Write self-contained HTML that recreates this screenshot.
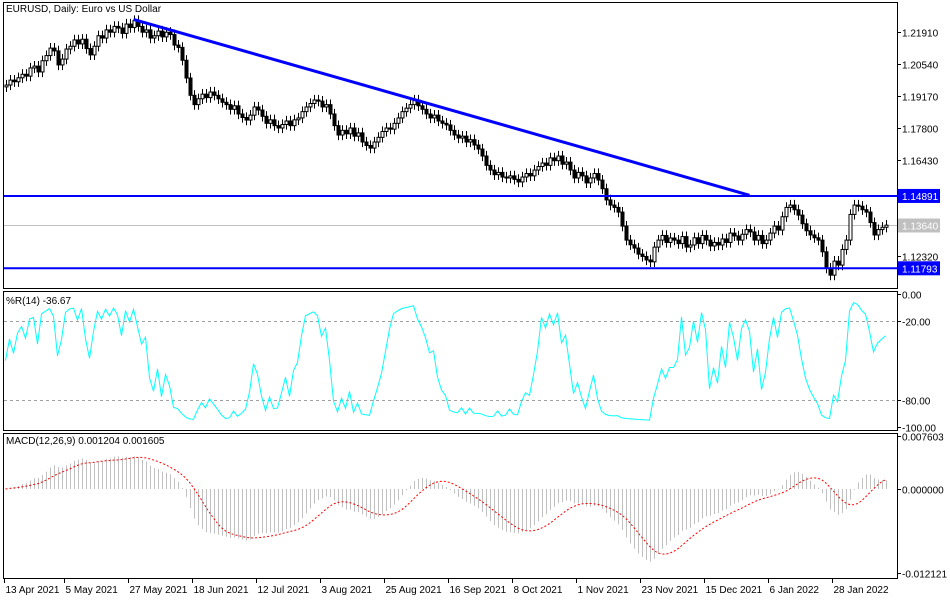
<!DOCTYPE html>
<html><head><meta charset="utf-8"><style>
body{margin:0;background:#fff;}
svg text{font-family:"Liberation Sans",sans-serif;font-size:10px;fill:#000;}
</style></head><body>
<svg id="c" width="950" height="600" xmlns="http://www.w3.org/2000/svg"></svg>
<script>
const closes=[1.1964,1.1985,1.1978,1.1995,1.2010,1.2002,1.2037,
1.2045,1.2020,1.2068,1.2090,1.2122,
1.2110,1.2050,1.2075,1.2118,1.2130,1.2157,
1.2140,1.2160,1.2120,1.2093,
1.2130,1.2175,1.2165,1.2200,
1.2190,1.2215,1.2208,
1.2185,1.2225,1.2210,1.2240,
1.2215,1.2190,1.2200,1.2165,
1.2175,1.2195,1.2170,1.2190,
1.2180,1.2135,1.2125,1.2070,1.1994,
1.1920,1.1880,
1.1905,1.1925,1.1910,1.1934,
1.1920,1.1905,1.1890,1.1880,
1.1860,1.1875,1.1840,1.1825,1.1814,
1.1835,1.1870,1.1857,
1.1830,1.1800,1.1815,1.1790,1.1780,
1.1795,1.1810,1.1790,1.1815,1.1823,
1.1850,1.1870,1.1885,1.1900,
1.1895,1.1870,1.1880,
1.1840,1.1790,1.1750,
1.1770,1.1755,1.1780,1.1745,1.1759,
1.1720,1.1705,1.1694,
1.1720,1.1740,1.1765,1.1780,
1.1775,1.1800,1.1823,
1.1850,1.1865,1.1880,1.1900,
1.1875,1.1860,1.1840,1.1823,
1.1835,1.1810,1.1800,1.1793,
1.1770,1.1750,1.1737,
1.1745,1.1720,1.1730,1.1707,
1.1690,1.1660,1.1620,1.1600,
1.1580,1.1590,1.1570,1.1566,
1.1575,1.1560,1.1549,
1.1570,1.1585,1.1575,1.1600,
1.1615,1.1630,1.1620,1.1652,
1.1640,1.1660,1.1625,1.1634,
1.1600,1.1566,
1.1590,1.1575,1.1545,1.1566,
1.1585,1.1557,
1.1520,1.1472,
1.1450,1.1440,1.1420,
1.1360,1.1300,
1.1280,1.1266,
1.1240,1.1230,1.1215,1.1207,
1.1270,1.1300,
1.1320,1.1290,1.1309,
1.1300,1.1285,1.1315,1.1270,1.1279,
1.1310,1.1285,1.1320,1.1300,
1.1275,1.1290,1.1279,
1.1305,1.1290,1.1330,1.1318,
1.1300,1.1325,1.1345,1.1335,
1.1300,1.1320,1.1285,1.1300,
1.1330,1.1360,1.1343,
1.1400,1.1440,1.1450,
1.1430,1.1407,
1.1370,1.1340,1.1322,
1.1310,1.1300,
1.1250,1.1180,1.1150,
1.1210,1.1193,
1.1260,1.1300,
1.1410,1.1450,
1.1445,1.1430,1.1420,
1.1375,1.1322,
1.1345,1.1355,1.1364];
const priceTicks=[1.21910,1.20540,1.19170,1.17800,1.16430,1.15060,1.12320];
const levels=[1.14891,1.11793];
const currentPrice=1.13640;
const trendStart=[32,1.2245], trendEnd=[186,1.1492];
const dateLabels=["13 Apr 2021","5 May 2021","27 May 2021","18 Jun 2021","12 Jul 2021","3 Aug 2021","25 Aug 2021","16 Sep 2021","8 Oct 2021","1 Nov 2021","23 Nov 2021","15 Dec 2021","6 Jan 2022","28 Jan 2022"];
const dateBars=[0,15,31,47,63,79,95,111,127,143,159,175,191,207];
const wrTicks=[0,-20,-80,-100];
const macdTicks=[0.007603,0,-0.012121];

const S=document.getElementById('c');const NS='http://www.w3.org/2000/svg';
function el(t,a,p){const e=document.createElementNS(NS,t);for(const k in a)e.setAttribute(k,a[k]);(p||S).appendChild(e);return e;}
const X=i=>5.5+4*i;
const YP=p=>32+(1.2191-p)*2335.7;
const YW=v=>294+(-v)/100*133;
const YM=v=>489-v*6946;
const RX=897;
[[3,2,288],[3,291,430],[3,433,578]].forEach(([x,y1,y2],k)=>{
 const r=el('rect',{x:x+.5,y:y1+.5,width:RX-x,height:y2-y1,fill:'none',stroke:'#000'});
 
 
});
let t=el('text',{x:6,y:12});t.textContent='EURUSD, Daily:  Euro vs US Dollar';

priceTicks.forEach(p=>{const y=Math.round(YP(p))+.5;el('line',{x1:RX,x2:RX+4,y1:y,y2:y,stroke:'#000'});
 const tt=el('text',{x:902,y:y+4});tt.textContent=p.toFixed(5);
 });
let cy=Math.round(YP(currentPrice))+.5;
el('line',{x1:4,x2:RX,y1:cy,y2:cy,stroke:'#c0c0c0'});
const g=el('g',{});
for(let i=0;i<closes.length;i++){
 const c=closes[i],o=i?closes[i-1]:c-0.0008;
 const hi=Math.max(o,c)+0.0022,lo=Math.min(o,c)-0.0022,x=Math.round(X(i))+.5;
 el('line',{x1:x,x2:x,y1:YP(hi),y2:YP(lo),stroke:'#000'},g);
 const yt=YP(Math.max(o,c)),yb=YP(Math.min(o,c));
 const r=el('rect',{x:x-1.5,y:yt,width:3,height:Math.max(1,yb-yt),fill:c>=o?'#fff':'#000',stroke:'#000'},g);
 
}
const tl=el('line',{x1:X(trendStart[0]),y1:YP(trendStart[1]),x2:X(trendEnd[0]),y2:YP(trendEnd[1]),stroke:'#0000ff','stroke-width':3});

levels.forEach(p=>{const y=YP(p);
 const l=el('line',{x1:4,x2:RX,y1:y,y2:y,stroke:'#0000ff','stroke-width':2});
 
 el('rect',{x:RX+1,y:y-7,width:42,height:14,fill:'#0000ff'});
 const tt=el('text',{x:902,y:y+4,style:'fill:#fff'});tt.textContent=p.toFixed(5);
 });
el('rect',{x:RX+1,y:cy-7,width:42,height:14,fill:'#c0c0c0'});
t=el('text',{x:902,y:cy+4,style:'fill:#fff'});t.textContent=currentPrice.toFixed(5);


const highs=closes.map((c,i)=>Math.max(c,i?closes[i-1]:c)+0.0022);
const lows=closes.map((c,i)=>Math.min(c,i?closes[i-1]:c)-0.0022);
const wr=closes.map((c,i)=>{const s=Math.max(0,i-13);const H=Math.max(...highs.slice(s,i+1)),L=Math.min(...lows.slice(s,i+1));return -100*(H-c)/(H-L||1);});
[-20,-80].forEach(v=>el('line',{x1:4,x2:RX,y1:Math.round(YW(v))+.5,y2:Math.round(YW(v))+.5,stroke:'#a0a0a0','stroke-dasharray':'3,3'}));
let d='';wr.forEach((v,i)=>d+=(i?'L':'M')+X(i)+','+YW(v));
const wl=el('path',{d,fill:'none',stroke:'#00ffff'});
wrTicks.forEach(v=>{const y=Math.round(YW(v))+.5;el('line',{x1:RX,x2:RX+4,y1:y,y2:y,stroke:'#000'});
 const tt=el('text',{x:902,y:y+4});tt.textContent=v.toFixed(2);});
t=el('text',{x:6,y:304});t.textContent='%R(14) -36.67';


function ema(a,n){const k=2/(n+1);let r=[],e=a[0];a.forEach((v,i)=>{e=i?v*k+e*(1-k):v;r.push(e);});return r;}
const e12=ema(closes,12),e26=ema(closes,26);
const macd=closes.map((c,i)=>e12[i]-e26[i]);
const sig=macd.map((m,i)=>{const s=Math.max(0,i-8);const a=macd.slice(s,i+1);return a.reduce((p,q)=>p+q,0)/a.length;});
const hg=el('g',{});
macd.forEach((m,i)=>{const x=Math.round(X(i))+.5;el('line',{x1:x,x2:x,y1:YM(0),y2:YM(m),stroke:'#c0c0c0'},hg);});
d='';sig.forEach((v,i)=>d+=(i?'L':'M')+X(i)+','+YM(v));
const sl=el('path',{d,fill:'none',stroke:'#ff0000','stroke-dasharray':'2,2'});
macdTicks.forEach(v=>{const y=Math.round(YM(v))+.5;el('line',{x1:RX,x2:RX+4,y1:y,y2:y,stroke:'#000'});
 const tt=el('text',{x:902,y:y+4});tt.textContent=v.toFixed(6);});
t=el('text',{x:6,y:444});t.textContent='MACD(12,26,9) 0.001204 0.001605';


dateLabels.forEach((s,k)=>{const x=Math.round(X(dateBars[k]))-1.5;
 el('line',{x1:x,x2:x,y1:578,y2:583,stroke:'#000'});
 const tt=el('text',{x:x+1,y:593});tt.textContent=s;});
</script>
</body></html>
